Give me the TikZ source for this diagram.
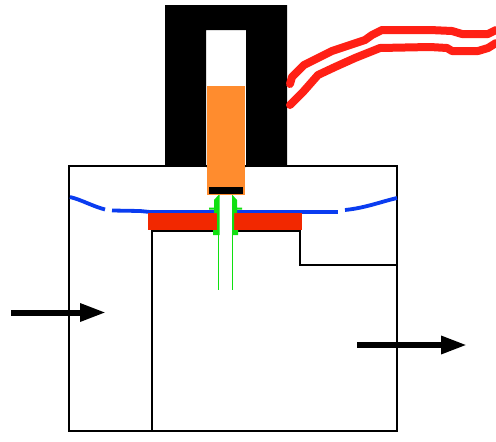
\documentclass[tikz,border=0pt]{standalone}
\usetikzlibrary{arrows.meta}
\definecolor{wirered}{HTML}{FF2015}
\definecolor{blockred}{HTML}{F22800}
\definecolor{coreorange}{HTML}{FF8C2E}
\definecolor{membrane}{HTML}{0A3CF0}
\definecolor{pingreen}{HTML}{10E010}
\tikzset{
  wall/.style={draw=black,line width=2pt},
  wire/.style={draw=wirered,line width=8pt,line cap=round,line join=round},
  memb/.style={draw=membrane,line width=3.8pt},
  flow/.style={draw=black,line width=6pt,-{Triangle[length=26pt,width=17pt]}},
  pinbody/.style={fill=pingreen},
  pinline/.style={draw=pingreen,line width=1.6pt},
}
\begin{document}
\begin{tikzpicture}[x=1pt,y=-1pt]
\useasboundingbox (0,0) rectangle (496,442);
\fill[white] (0,0) rectangle (496,442);
% housing
\draw[wall] (69,166) rectangle (397,431);
\draw[wall] (151.5,431) -- (151.5,230.5) -- (217,230.5);
\draw[wall] (234,230.5) -- (299.5,230.5) -- (299.5,264.5) -- (397,264.5);
% magnet yoke
\fill[black,even odd rule] (165,5) rectangle (287,166) (206,30) rectangle (246,167);
% core
\fill[coreorange] (207,86) rectangle (245,195);
\fill[black] (209,187) rectangle (243,194);
% membrane
\draw[memb] (70,197) .. controls (82,200) and (92,206) .. (105,209.5);
\draw[memb] (112,210.5) -- (140,211) -- (150,212) -- (214,212);
\draw[memb] (237,212) -- (338,212);
\draw[memb] (345,210) .. controls (365,208) and (380,202) .. (397,198);
% seat
\fill[blockred] (148,213) rectangle (217,229.5);
\fill[blockred] (234,213) rectangle (302,229.5);
% pin
\path[pinbody] (218.5,195) -- (214,200) -- (214,207.5) -- (209,207.5) -- (209,209.5) -- (214,209.5) -- (214,213) -- (217,213) -- (217,230) -- (213,230) -- (213,235) -- (219.5,235) -- (219.5,195) -- cycle;
\path[pinbody] (232.5,195) -- (237,200) -- (237,207.5) -- (242,207.5) -- (242,209.5) -- (237,209.5) -- (237,213) -- (234,213) -- (234,230) -- (238,230) -- (238,235) -- (232,235) -- (232,195) -- cycle;
\draw[pinline] (218.5,235) -- (218.5,290);
\draw[pinline] (232.5,235) -- (232.5,290);
% wires
\draw[wire] (290,84) -- (292,77) -- (304,65) -- (318,58) -- (332,51) -- (350,45) -- (365,40) -- (372,35) -- (382,30) -- (430,30) -- (452,31) -- (462,34) -- (488,34) -- (496,30);
\draw[wire] (290,105) -- (303,92) -- (318,75) -- (335,67) -- (355,58) -- (370,52) -- (380,48) -- (430,47) -- (447,48) -- (452,51) -- (478,51) -- (488,48) -- (496,43);
% flow arrows
\coordinate (inA) at (11,312.5);
\coordinate (inB) at (106,312.5);
\coordinate (outA) at (357,345);
\coordinate (outB) at (467,345);
\draw[flow] (inA) -- (inB);
\draw[flow] (outA) -- (outB);
\end{tikzpicture}
\end{document}
